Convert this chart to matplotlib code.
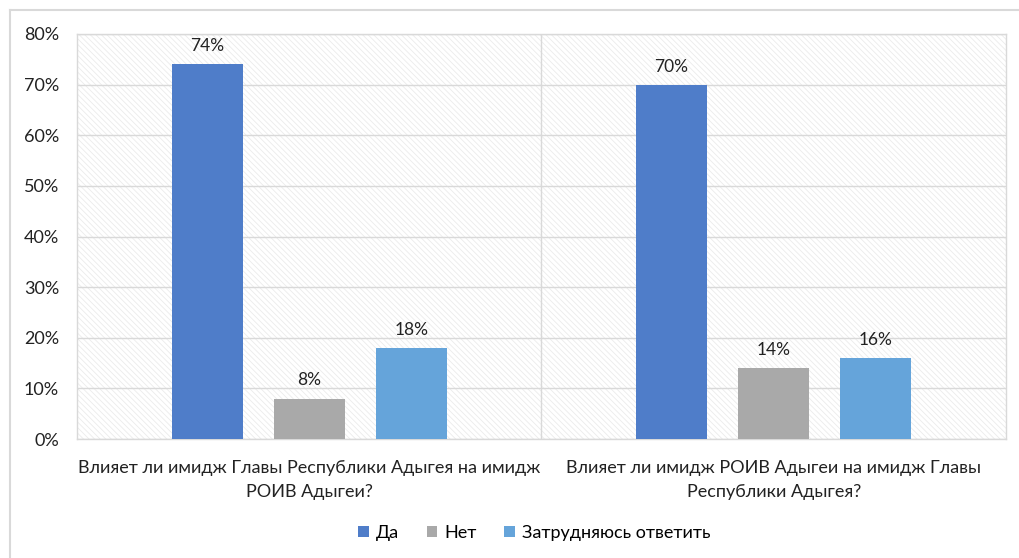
import matplotlib.pyplot as plt
import numpy as np
from matplotlib.patches import Rectangle, Patch
from matplotlib.ticker import PercentFormatter

plt.rcParams['font.family'] = ['Lato', 'DejaVu Sans']
plt.rcParams['hatch.color'] = '#ebebeb'
plt.rcParams['hatch.linewidth'] = 0.6

categories = [
    "Влияет ли имидж Главы Республики Адыгея на имидж\nРОИВ Адыгеи?",
    "Влияет ли имидж РОИВ Адыгеи на имидж Главы\nРеспублики Адыгея?",
]
series_names = ["Да", "Нет", "Затрудняюсь ответить"]
da = [74, 70]
net = [8, 14]
zatr = [18, 16]
colors = ["#4f7dc9", "#a9a9a9", "#65a4da"]

W, H = 1020, 558
fig = plt.figure(figsize=(W / 100, H / 100), dpi=100)
ax = fig.add_axes([77 / W, 1 - 439 / H, (1006 - 77) / W, (439 - 34) / H])

# figure border (top and left visible)
fig.add_artist(plt.Line2D([10 / W, 1], [1 - 10 / H, 1 - 10 / H], color="#d9d9d9", lw=1.5,
                          transform=fig.transFigure))
fig.add_artist(plt.Line2D([10 / W, 10 / W], [0, 1 - 10 / H], color="#d9d9d9", lw=1.5,
                          transform=fig.transFigure))

# hatched plot area background
ax.add_patch(Rectangle((0, 0), 1, 1, transform=ax.transAxes, facecolor="white",
                       hatch="\\\\\\\\\\\\", edgecolor="#ebebeb", lw=0, zorder=0))

x = np.arange(len(categories))
width = 0.153
offset = 0.22
for i, (vals, name) in enumerate(zip([da, net, zatr], series_names)):
    pos = x + (i - 1) * offset
    ax.bar(pos, vals, width=width, color=colors[i], zorder=3, label=name)
    for p, v in zip(pos, vals):
        ax.text(p, v + 2.0, f"{v}%", ha="center", va="bottom", fontsize=12.5, color="#222222", zorder=4)

ax.set_xlim(-0.5, 1.5)
ax.set_ylim(0, 80)
ax.set_yticks(range(0, 81, 10))
ax.yaxis.set_major_formatter(PercentFormatter(decimals=0))
ax.grid(axis="y", color="#d9d9d9", lw=1, zorder=1)
ax.axvline(0.5, color="#d9d9d9", lw=1, zorder=1)
ax.set_xticks(x)
ax.set_xticklabels(categories, fontsize=13, color="#222222", linespacing=1.6)
ax.tick_params(axis="x", length=0, pad=15)
ax.tick_params(axis="y", length=0, pad=13, labelsize=13, labelcolor="#222222")
for s in ax.spines.values():
    s.set_color("#d9d9d9")
    s.set_linewidth(1)

handles = [Patch(facecolor=c, label=n) for c, n in zip(colors, series_names)]
fig.legend(handles=handles, loc="center", bbox_to_anchor=(0.524, 1 - 533 / H), ncol=3,
           frameon=False, fontsize=13, handlelength=0.6, handleheight=0.6,
           handletextpad=0.4, columnspacing=1.5)

fig.savefig("out.png", dpi=100)
